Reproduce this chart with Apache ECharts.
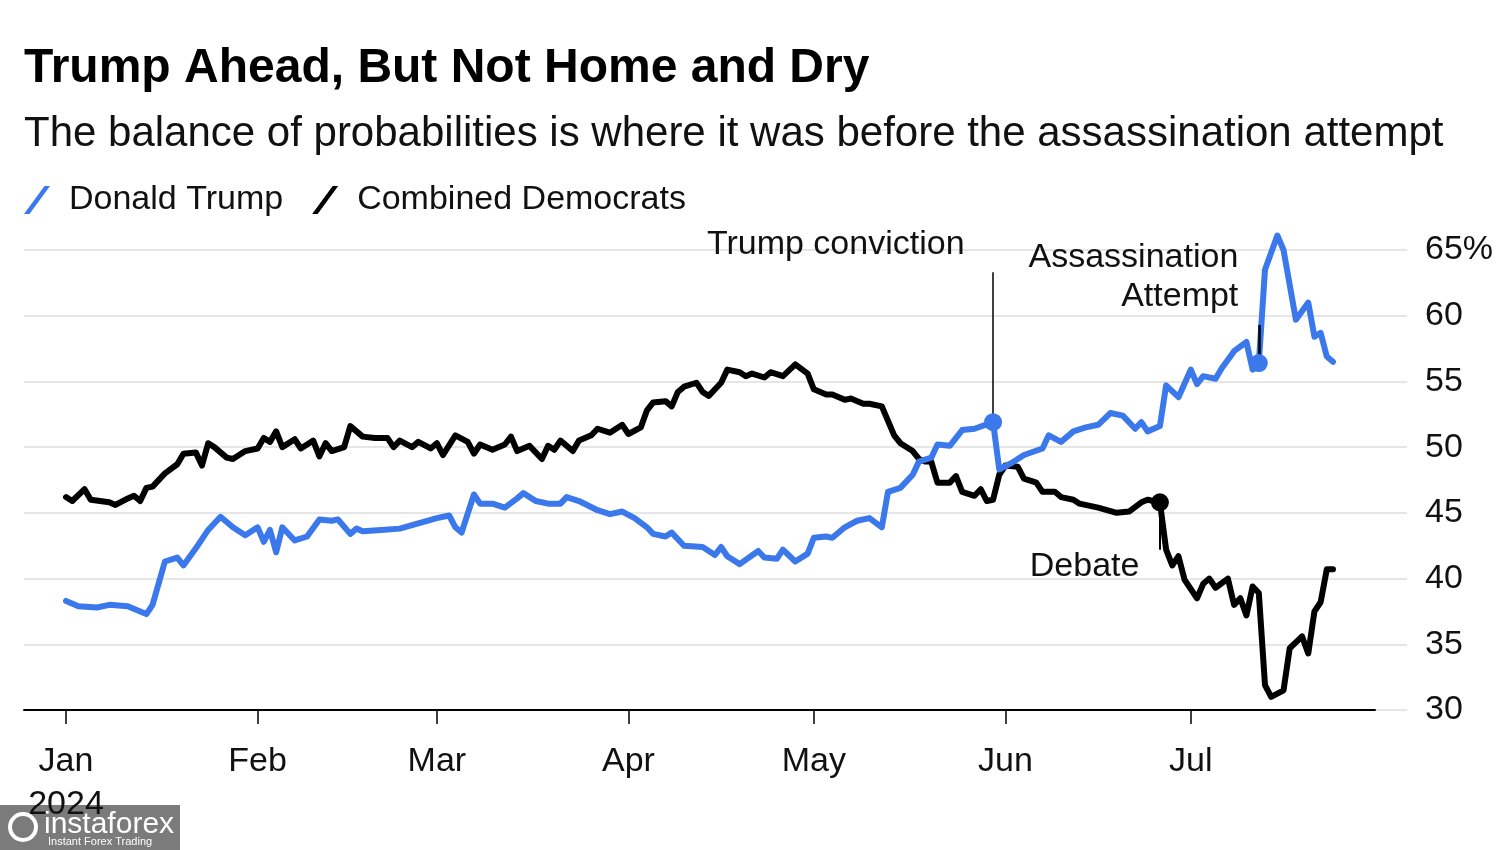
<!DOCTYPE html>
<html><head><meta charset="utf-8">
<script src="https://cdn.jsdelivr.net/npm/echarts@6/dist/echarts.min.js"></script>
<style>html,body{margin:0;padding:0;background:#fff}#c{width:1500px;height:850px}</style>
</head><body><div id="c"></div>
<script>
// ---- data ----
const trumpDates = ['2024-01-01','2024-01-03','2024-01-06','2024-01-08','2024-01-11','2024-01-13','2024-01-14','2024-01-15','2024-01-17','2024-01-19','2024-01-20','2024-01-22','2024-01-24','2024-01-26','2024-01-28','2024-01-30',
'2024-02-01','2024-02-02','2024-02-03','2024-02-04','2024-02-05','2024-02-07','2024-02-09','2024-02-11','2024-02-13','2024-02-14','2024-02-16','2024-02-17','2024-02-18','2024-02-21','2024-02-24','2024-02-27',
'2024-03-01','2024-03-03','2024-03-04','2024-03-05','2024-03-07','2024-03-08','2024-03-10','2024-03-12','2024-03-14','2024-03-15','2024-03-17','2024-03-19','2024-03-21','2024-03-22','2024-03-24','2024-03-27','2024-03-29','2024-03-31',
'2024-04-02','2024-04-04','2024-04-05','2024-04-07','2024-04-08','2024-04-10','2024-04-13','2024-04-15','2024-04-16','2024-04-17','2024-04-19','2024-04-22','2024-04-23','2024-04-25','2024-04-26','2024-04-28','2024-04-30',
'2024-05-01','2024-05-03','2024-05-04','2024-05-06','2024-05-08','2024-05-10','2024-05-12','2024-05-13','2024-05-15','2024-05-17','2024-05-18','2024-05-20','2024-05-21','2024-05-23','2024-05-25','2024-05-27','2024-05-30','2024-05-31',
'2024-06-02','2024-06-04','2024-06-07','2024-06-08','2024-06-10','2024-06-12','2024-06-14','2024-06-16','2024-06-18','2024-06-20','2024-06-22','2024-06-23','2024-06-24','2024-06-26','2024-06-27','2024-06-29',
'2024-07-01','2024-07-02','2024-07-03','2024-07-05','2024-07-06','2024-07-08','2024-07-10','2024-07-11','2024-07-12','2024-07-13','2024-07-15','2024-07-16','2024-07-18','2024-07-20','2024-07-21','2024-07-22','2024-07-23','2024-07-24'];
const trumpValues = [38.3,37.9,37.8,38.0,37.9,37.5,37.3,38.0,41.3,41.6,41.0,42.3,43.7,44.7,43.9,43.3,
43.9,42.8,43.7,42.0,43.9,42.9,43.2,44.5,44.4,44.5,43.4,43.8,43.6,43.7,43.8,44.2,
44.6,44.8,43.9,43.5,46.4,45.7,45.7,45.4,46.1,46.5,45.9,45.7,45.7,46.2,45.9,45.2,44.9,45.1,
44.6,43.9,43.4,43.2,43.5,42.5,42.4,41.8,42.4,41.7,41.1,42.1,41.6,41.5,42.2,41.3,41.9,
43.1,43.2,43.1,43.9,44.4,44.6,43.9,46.6,46.9,47.9,48.9,49.2,50.2,50.1,51.3,51.4,51.9,48.3,
48.8,49.4,49.9,50.9,50.4,51.2,51.5,51.7,52.6,52.4,51.4,51.9,51.2,51.6,54.7,53.8,
55.9,54.8,55.4,55.2,56.0,57.3,58.0,55.9,56.4,63.5,66.1,65.0,59.7,61.0,58.4,58.7,56.9,56.5];

const demDates = ['2024-01-01','2024-01-02','2024-01-04','2024-01-05','2024-01-08','2024-01-09','2024-01-11','2024-01-12','2024-01-13','2024-01-14','2024-01-15','2024-01-17','2024-01-19','2024-01-20','2024-01-22','2024-01-23','2024-01-24','2024-01-25','2024-01-27','2024-01-28','2024-01-30',
'2024-02-01','2024-02-02','2024-02-03','2024-02-04','2024-02-05','2024-02-07','2024-02-08','2024-02-10','2024-02-11','2024-02-12','2024-02-13','2024-02-15','2024-02-16','2024-02-18','2024-02-20','2024-02-22','2024-02-23','2024-02-24','2024-02-26','2024-02-27','2024-02-29',
'2024-03-01','2024-03-02','2024-03-04','2024-03-06','2024-03-07','2024-03-08','2024-03-10','2024-03-12','2024-03-13','2024-03-14','2024-03-16','2024-03-18','2024-03-19','2024-03-20','2024-03-21','2024-03-23','2024-03-24','2024-03-26','2024-03-27','2024-03-29','2024-03-31',
'2024-04-01','2024-04-03','2024-04-04','2024-04-05','2024-04-07','2024-04-08','2024-04-09','2024-04-10','2024-04-12','2024-04-13','2024-04-14','2024-04-16','2024-04-17','2024-04-19','2024-04-20','2024-04-21','2024-04-23','2024-04-24','2024-04-26','2024-04-28','2024-04-30',
'2024-05-01','2024-05-03','2024-05-04','2024-05-06','2024-05-07','2024-05-09','2024-05-10','2024-05-12','2024-05-14','2024-05-15','2024-05-17','2024-05-18','2024-05-19','2024-05-20','2024-05-21','2024-05-23','2024-05-24','2024-05-25','2024-05-27','2024-05-28','2024-05-29','2024-05-30','2024-05-31',
'2024-06-01','2024-06-03','2024-06-04','2024-06-06','2024-06-07','2024-06-09','2024-06-10','2024-06-12','2024-06-13','2024-06-16','2024-06-19','2024-06-21','2024-06-23','2024-06-24','2024-06-26','2024-06-27','2024-06-28','2024-06-29','2024-06-30',
'2024-07-02','2024-07-03','2024-07-04','2024-07-05','2024-07-07','2024-07-08','2024-07-09','2024-07-10','2024-07-11','2024-07-12','2024-07-13','2024-07-14','2024-07-16','2024-07-17','2024-07-19','2024-07-20','2024-07-21','2024-07-22','2024-07-23','2024-07-24'];
const demValues = [46.2,45.9,46.8,46.0,45.8,45.6,46.1,46.3,45.9,46.9,47.0,48.0,48.7,49.5,49.6,48.6,50.3,50.0,49.2,49.1,49.7,
49.9,50.7,50.4,51.2,50.0,50.6,49.9,50.5,49.3,50.3,49.7,50.0,51.6,50.8,50.7,50.7,50.0,50.5,50.0,50.4,49.9,
50.3,49.4,50.9,50.4,49.5,50.2,49.8,50.2,50.8,49.7,50.1,49.1,50.1,49.8,50.5,49.7,50.5,50.9,51.4,51.1,51.7,
51.0,51.5,52.8,53.4,53.5,53.1,54.2,54.6,54.9,54.2,53.9,54.9,55.9,55.7,55.4,55.6,55.3,55.7,55.4,56.3,55.6,
54.4,54.0,54.0,53.6,53.7,53.3,53.3,53.1,50.9,50.3,49.7,49.1,48.9,48.9,47.3,47.3,47.8,46.6,46.3,46.8,45.9,46.0,47.9,
48.6,48.5,47.6,47.3,46.6,46.6,46.2,46.0,45.7,45.4,45.0,45.1,45.8,46.0,45.8,42.2,41.0,41.7,39.9,
38.5,39.6,40.0,39.3,40.0,38.0,38.5,37.2,39.4,38.9,31.9,31.0,31.5,34.7,35.6,34.3,37.5,38.2,40.7,40.7];

const monthTicks = ['2024-01-01','2024-02-01','2024-03-01','2024-04-01','2024-05-01','2024-06-01','2024-07-01'];
const monthLabels = ['Jan','Feb','Mar','Apr','May','Jun','Jul'];
const yearLabel = '2024';
const yTicks = [30,35,40,45,50,55,60,65];

// events: date and value of the marked point, end of the leader line, where the note sits
const conviction = {date:'2024-05-30', value:51.9, lineEnd:63.3, labelAt:63.3, label:'Trump conviction'};
const assassination = {date:'2024-07-12', value:56.4, lineEnd:59.3, labelAt:62.9, label:'Assassination\nAttempt'};
const debate = {date:'2024-06-26', value:45.8, lineEnd:42.2, labelAt:40.9, label:'Debate'};

// ---- build ----
const FONT = '"Liberation Sans", Arial, Helvetica, sans-serif';
const BLUE = '#3a78ec';
const BLACK = '#000000';
const parseD = s => { const p = s.split('-').map(Number); return new Date(p[0], p[1]-1, p[2]).getTime(); };
const DAY = 864e5;
const jan1 = parseD('2024-01-01');
const xMin = jan1 - 6.8*DAY;
const xMax = jan1 + 211.8*DAY;
const tickTs = monthTicks.map(parseD);

const trumpData = trumpDates.map((d,i) => [parseD(d), trumpValues[i]]);
const demData = demDates.map((d,i) => [parseD(d), demValues[i]]);

const labelText = {fontFamily: FONT, fontSize: 34, color: '#111'};

function dot(ev, color){
  return {coord:[parseD(ev.date), ev.value], symbol:'circle', symbolSize:18, itemStyle:{color:color}, label:{show:false}};
}
function note(ev, dist, offset){
  return {coord:[parseD(ev.date), ev.labelAt], symbol:'circle', symbolSize:1, itemStyle:{color:'rgba(0,0,0,0)'},
    label:Object.assign({show:true, formatter:ev.label, position:'left', distance:dist, offset:offset || [0,0], align:'right', lineHeight:39}, labelText)};
}
function leader(ev, w){
  return [{coord:[parseD(ev.date), ev.value], lineStyle:{width:w, color:'#000', type:'solid'}}, {coord:[parseD(ev.date), ev.lineEnd]}];
}

const chart = echarts.init(document.getElementById('c'), null, {renderer:'canvas'});
chart.setOption({
  animation:false,
  backgroundColor:'#fff',
  title:[
    {text:'Trump Ahead, But Not Home and Dry', left:24, top:41, padding:0,
     textStyle:{fontFamily:FONT, fontWeight:'bold', fontSize:48, lineHeight:56, color:'#000'}},
    {text:'The balance of probabilities is where it was before the assassination attempt', left:24, top:109, padding:0,
     textStyle:{fontFamily:FONT, fontWeight:'normal', fontSize:42, lineHeight:50, color:'#111'}}
  ],
  legend:{
    left:24, top:183, padding:0, itemGap:29, itemWidth:26, itemHeight:28,
    icon:'path://M20.5,0 L26,0 L5.5,28 L0,28 Z',
    data:['Donald Trump','Combined Democrats'],
    textStyle:Object.assign({padding:[0,0,0,14]}, labelText),
    selectedMode:false
  },
  grid:[
    {left:24, right:125, top:250, bottom:140},
    {left:24, right:93, top:250, bottom:140}
  ],
  xAxis:[
    {type:'value', gridIndex:0, min:xMin, max:xMax,
     axisLine:{show:true, lineStyle:{color:'#000', width:2}},
     axisTick:{show:true, length:14, lineStyle:{color:'#000', width:1.5}, customValues:tickTs},
     axisLabel:{customValues:tickTs, margin:30, lineHeight:43, fontFamily:FONT, fontSize:34, color:'#111',
       formatter:function(v){ const i = tickTs.indexOf(v); const t = i >= 0 ? monthLabels[i] : ''; return i === 0 ? t + '\n' + yearLabel : t; }},
     splitLine:{show:false}},
    {type:'value', gridIndex:1, min:0, max:1, show:false}
  ],
  yAxis:[
    {type:'value', gridIndex:0, min:30, max:65, interval:5, show:false, splitLine:{show:false}},
    {type:'value', gridIndex:1, min:30, max:65, interval:5, position:'right',
     axisLine:{show:false}, axisTick:{show:false},
     splitLine:{show:true, lineStyle:{color:'#e6e6e6', width:2}},
     axisLabel:{margin:18, fontFamily:FONT, fontSize:34, color:'#111',
       formatter:function(v){ return v === yTicks[yTicks.length-1] ? v + '%' : String(v); }}}
  ],
  series:[
    {name:'Donald Trump', type:'line', xAxisIndex:0, yAxisIndex:0, data:trumpData, showSymbol:false, clip:false, z:4,
     itemStyle:{color:BLUE}, lineStyle:{color:BLUE, width:6, cap:'round', join:'round'},
     markLine:{silent:true, symbol:['none','none'], label:{show:false}, animation:false,
       data:[leader(conviction, 1.5), leader(assassination, 2.5)]},
     markPoint:{silent:true, animation:false, label:{show:false},
       data:[dot(conviction, BLUE), dot(assassination, BLUE), note(conviction, 28, [0,-28]), note(assassination, 20)]}},
    {name:'Combined Democrats', type:'line', xAxisIndex:0, yAxisIndex:0, data:demData, showSymbol:false, clip:false, z:3,
     itemStyle:{color:BLACK}, lineStyle:{color:BLACK, width:6, cap:'round', join:'round'},
     markLine:{silent:true, symbol:['none','none'], label:{show:false}, animation:false,
       data:[leader(debate, 2)]},
     markPoint:{silent:true, animation:false, label:{show:false},
       data:[dot(debate, BLACK), note(debate, 20)]}}
  ],
  graphic:[
    {type:'group', left:0, top:805, z:100, children:[
      {type:'rect', shape:{x:0, y:0, width:180, height:45}, style:{fill:'rgba(105,105,105,0.88)'}},
      {type:'circle', shape:{cx:23, cy:22, r:13}, style:{fill:'none', stroke:'#fff', lineWidth:4}},
      {type:'text', style:{x:44, y:20, text:'instaforex', fill:'#fff', font:'30px ' + FONT, textVerticalAlign:'middle'}},
      {type:'text', style:{x:48, y:37, text:'Instant Forex Trading', fill:'#fff', font:'11px ' + FONT, textVerticalAlign:'middle'}}
    ]}
  ]
});
</script>
</body></html>
